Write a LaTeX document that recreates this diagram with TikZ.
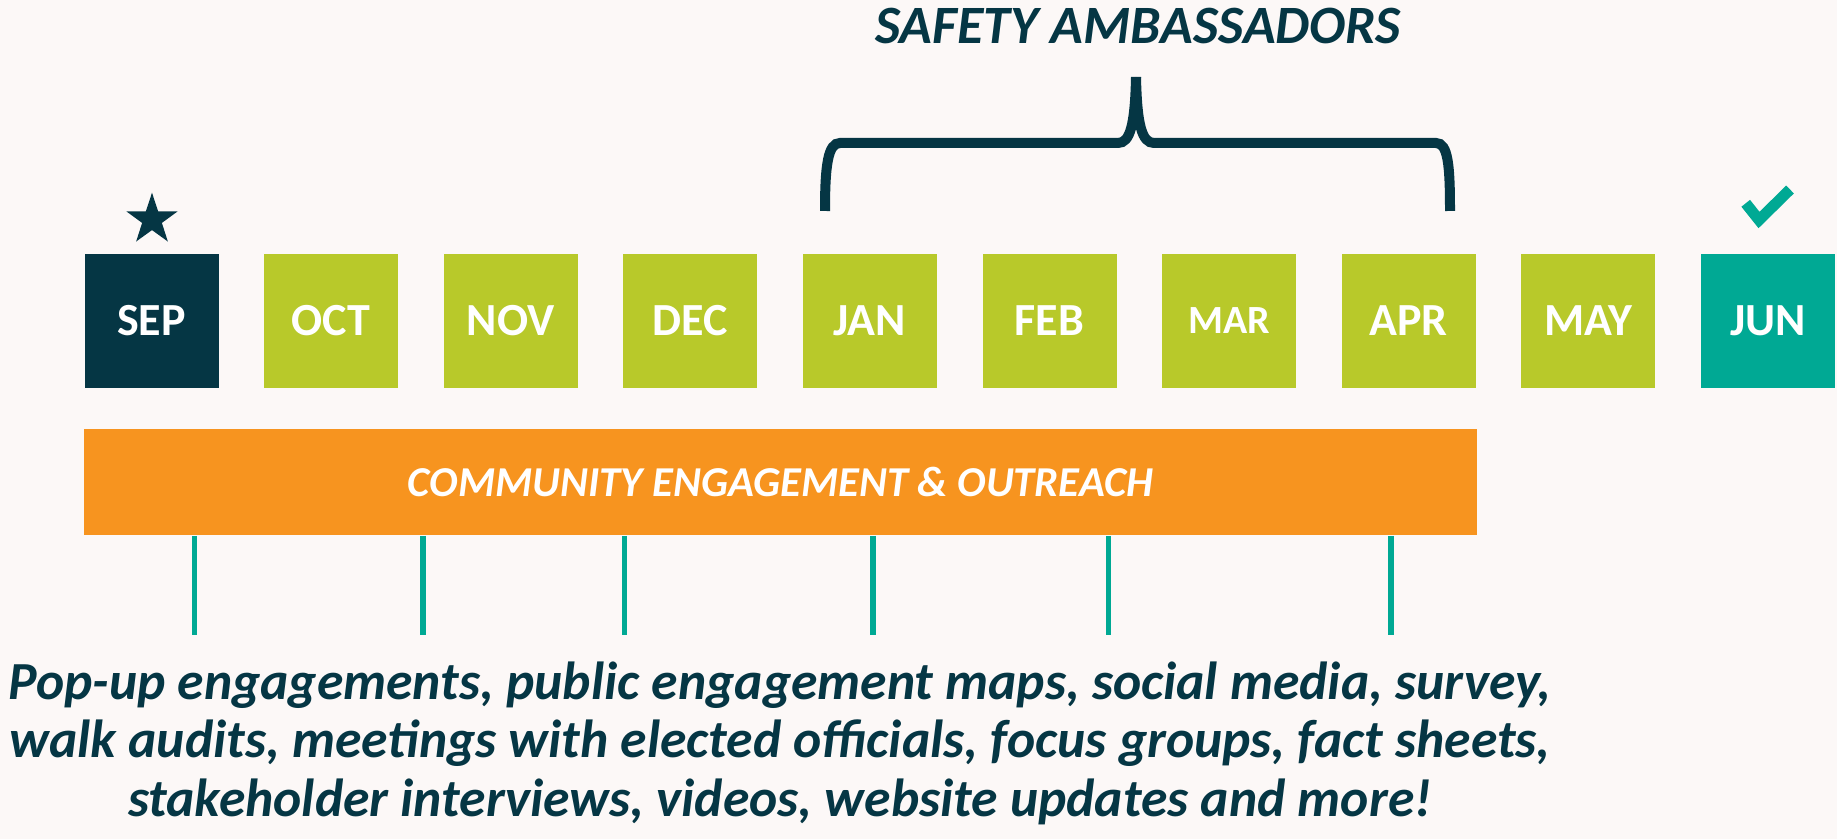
\documentclass[tikz,border=0pt]{standalone}
\usepackage{fontspec}
\setmainfont{Carlito}
\usetikzlibrary{shapes.geometric}
\definecolor{dteal}{HTML}{053644}
\definecolor{lime}{HTML}{B8C92A}
\definecolor{orng}{HTML}{F7941F}
\definecolor{tealc}{HTML}{00A994}
\definecolor{bgc}{HTML}{FCF8F7}
\tikzset{
  mbox/.style={minimum width=67pt, minimum height=67pt, inner sep=0pt, text=white,
    font=\bfseries\fontsize{23}{23}\selectfont},
  bracestyle/.style={draw=dteal, line width=5pt, line cap=butt},
  tline/.style={draw=tealc, line width=2.75pt},
  bottomtext/.style={anchor=base, inner sep=0pt, text=dteal,
    font=\bfseries\itshape\fontsize{26.8}{29}\selectfont},
}
\begin{document}
\begin{tikzpicture}[x=0.5pt,y=-0.5pt]
\fill[bgc] (0,0) rectangle (1837,839);
\useasboundingbox (0,0) rectangle (1837,839);

% month boxes
\node[mbox, fill=dteal] (sep) at (151.5,321) {SEP};
\node[mbox, fill=lime] (oct) at (331.1,321) {OCT};
\node[mbox, fill=lime] (nov) at (510.7,321) {NOV};
\node[mbox, fill=lime] (dec) at (690.3,321) {DEC};
\node[mbox, fill=lime] (jan) at (869.9,321) {JAN};
\node[mbox, fill=lime] (feb) at (1049.5,321) {FEB};
\node[mbox, fill=lime, font=\bfseries\fontsize{20}{20}\selectfont] (mar) at (1229.1,321) {MAR};
\node[mbox, fill=lime] (apr) at (1408.7,321) {APR};
\node[mbox, fill=lime] (may) at (1588.3,321) {MAY};
\node[mbox, fill=tealc] (jun) at (1767.9,321) {JUN};

% star above SEP
\node[star, star points=5, star point ratio=2.6, fill=dteal, minimum size=27pt, inner sep=0pt] (star) at (152,219.7) {};

% check mark above JUN
\draw[tealc, line width=5.5pt, line cap=butt, line join=miter] (1745.7,203.3) -- (1759,220) -- (1790,189.5);

% bracket
\draw[bracestyle] (825,211) .. controls (825,165) and (828,143) .. (840,143) -- (1118,143)
  .. controls (1130,143) and (1135,125) .. (1136,77);
\draw[bracestyle] (1136,77) .. controls (1137,125) and (1142,143) .. (1154,143) -- (1436,143)
  .. controls (1448,143) and (1450,165) .. (1450,211);
\node[anchor=base, inner sep=0pt, text=dteal, font=\bfseries\itshape\fontsize{27}{27}\selectfont] (title) at (1138,43.5) {SAFETY AMBASSADORS};

% orange bar
\node[fill=orng, minimum width=696.1pt, minimum height=53.3pt, inner sep=0pt, text=white,
  font=\bfseries\itshape\fontsize{21.3}{21.3}\selectfont] (bar) at (780.5,482.1) {COMMUNITY ENGAGEMENT \& OUTREACH};

% teal ticks
\coordinate (t1) at (194.5,635);
\coordinate (t2) at (423,635);
\coordinate (t3) at (624.5,635);
\coordinate (t4) at (873,635);
\coordinate (t5) at (1108.5,635);
\coordinate (t6) at (1391,635);
\foreach \t in {t1,t2,t3,t4,t5,t6}{\draw[tline] (bar.south -| \t) -- (\t);}

% bottom text
\node[bottomtext] (l1) at (780,699) {Pop-up engagements, public engagement maps, social media, survey,};
\node[bottomtext] (l2) at (780,757.5) {walk audits, meetings with elected officials, focus groups, fact sheets,};
\node[bottomtext] (l3) at (780,816) {stakeholder interviews, videos, website updates and more!};
\end{tikzpicture}
\end{document}
